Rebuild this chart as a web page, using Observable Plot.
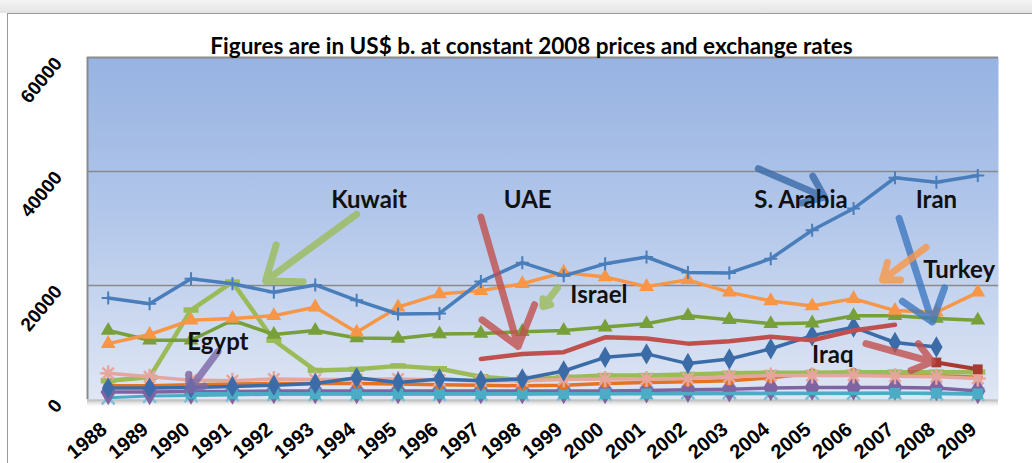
<!DOCTYPE html>
<html>
<head>
<meta charset="utf-8">
<script src="https://cdn.jsdelivr.net/npm/d3@7"></script>
<script src="https://cdn.jsdelivr.net/npm/@observablehq/plot@0.6"></script>
<style>
  html, body { margin: 0; padding: 0; background: #fff; }
  #page { position: relative; width: 1032px; height: 463px; overflow: hidden; background: #fff; }
  #topshade { position: absolute; left: 0; top: 0; width: 1032px; height: 13px;
    background: linear-gradient(#f4f4f4, #e4e4e4); }
  #frame { position: absolute; left: 7px; top: 13px; width: 1025px; height: 450px;
    border-left: 1px solid #9a9a9a; border-top: 1px solid #9a9a9a; }
  #title { position: relative; height: 30px; z-index: 2; }
  #title div { position: absolute; top: 22px; left: 0; width: 1024px; padding-left: 23px; box-sizing: border-box;
    text-align: center; font: bold 22.5px Lato, "Open Sans", sans-serif; line-height: 20px; color: #000; white-space: nowrap; }
  #chart { position: relative; z-index: 1; }
</style>
</head>
<body>
<div id="page">
  <div id="topshade"></div>
  <div id="frame">
    <div id="title"><div>Figures are in US$ b. at constant 2008 prices and exchange rates</div></div>
    <div id="chart"></div>
  </div>
</div>
<script>
// ---------------- data ----------------
const years = [1988,1989,1990,1991,1992,1993,1994,1995,1996,1997,1998,1999,2000,2001,2002,2003,2004,2005,2006,2007,2008,2009];
const yTicks = [0, 20000, 40000, 60000];

const saudi  = [17800,16800,21200,20300,18800,20100,17400,15000,15100,20700,24000,21700,23800,25000,22300,22200,24700,29700,33500,38900,38100,39300];
const turkey = [9800,11400,13900,14200,14700,16200,11800,16200,18500,19100,20300,22300,21500,19800,21000,18800,17300,16400,17700,15600,15300,18800];
const israel = [12100,10400,10400,13900,11400,12100,10800,10700,11500,11600,11900,12100,12700,13300,14700,14000,13300,13400,14700,14700,14200,13900];
const kuwait = [3300,3900,15700,20600,10400,5100,5300,5900,5400,4000,3400,3900,4200,4200,4400,4600,4700,4700,4800,4800,4800,4800];
const uae    = [null,null,null,null,null,null,null,null,null,7100,8000,8300,10900,10700,9800,10200,11000,10400,12100,13100,null,null];
const iran   = [2000,2000,2100,2300,2500,2800,3800,3000,3600,3300,3600,5000,7400,8000,6300,7100,8900,11200,12700,10000,9200,null];
const iraq   = [null,null,null,null,null,null,null,null,null,null,null,null,null,null,null,null,null,null,null,null,6500,5300];
const orange2= [2400,2400,2600,2700,2800,2800,2800,2700,2600,2500,2400,2500,2800,3000,3100,3300,3800,4600,4700,4400,4200,3900];
const egypt  = [4600,4000,3400,3300,3600,3500,3500,3600,3400,3300,3300,3500,3600,3600,3700,4000,4200,4200,4200,4100,4000,3700];
const purple = [1300,1300,1400,1400,1500,1500,1500,1500,1500,1500,1500,1500,1500,1600,1700,1800,2000,2100,2100,2100,2000,1500];
const cyanX  = [300,600,700,800,900,900,900,900,900,900,900,1000,1000,1100,1200,1200,1100,1100,1100,1100,1000,900];
const cyanSq = [null,null,1000,1000,1000,1000,1000,1000,1000,1000,1000,1000,1000,1000,null,null,null,null,null,1100,1100,1000];

// label annotations
const labelText  = ["Kuwait","UAE","S. Arabia","Iran","Turkey","Israel","Egypt","Iraq"];
const labelYear  = [1994.3, 1998.13, 2004.73, 2008.0, 2008.55, 1999.85, 1990.65, 2005.5];
const labelValue = [35000, 35000, 35000, 35000, 22700, 18300, 10000, 7700];
// arrows: from (year, value) to (year, value)
const arrowColor = ["#9bbb59","#c0504d","#3a6aa8","#3f78c0","#f79646","#9bbb59","#7b68a6","#c0504d"];
const arrowX1 = [1994.0, 1997.0, 2003.7, 2007.1, 2007.75, 1998.85, 1990.65, 2006.3];
const arrowY1 = [32500, 32000, 40500, 31800, 26700, 19600, 8400, 9800];
const arrowX2 = [1991.8, 1997.9, 2005.3, 2007.9, 2006.7, 1998.5, 1989.95, 2007.9];
const arrowY2 = [20800, 9300, 35500, 13600, 21000, 16300, 1600, 6600];

// ---------------- build ----------------
function rows(vals) { return years.map((y, i) => ({year: y, v: vals[i]})).filter(d => d.v != null); }

const dashSym = { draw(ctx, size) { const w = 15, h = 5.5; ctx.rect(-w/2, -h/2, w, h); } };
const plusSym = { draw(ctx, size) { const r = 6.5; ctx.moveTo(-r, 0); ctx.lineTo(r, 0); ctx.moveTo(0, -r); ctx.lineTo(0, r); } };
const xSym    = { draw(ctx, size) { const r = 6.5; ctx.moveTo(-r, -r); ctx.lineTo(r, r); ctx.moveTo(-r, r); ctx.lineTo(r, -r); } };
const astSym  = { draw(ctx, size) { const r = 8; for (let k = 0; k < 4; k++) { const a = k * Math.PI / 4; ctx.moveTo(-r*Math.cos(a), -r*Math.sin(a)); ctx.lineTo(r*Math.cos(a), r*Math.sin(a)); } } };

const series = [
  {vals: cyanX,  color: "#4bacc6", sym: xSym, stroke: true, w: 3, sw: 2.5, mcolor: "#7fbfdc"},
  {vals: purple, color: "#8064a2", sym: "diamond", r: 8, w: 3.5},
  {vals: cyanSq, color: "#4bacc6", sym: "square", r: 6, w: 3.5},
  {vals: orange2,color: "#e37222", sym: "circle", r: 5, w: 3.5},
  {vals: kuwait, color: "#9bbb59", sym: dashSym, r: 5, w: 4.5},
  {vals: egypt,  color: "#e6a59d", sym: astSym, stroke: true, w: 3.5, sw: 2.5},
  {vals: iran,   color: "#3c6ca8", sym: "diamond", r: 6.5, w: 3.5},
  {vals: uae,    color: "#c0504d", sym: null, w: 4.5},
  {vals: iraq,   color: "#a83a30", sym: "square", r: 5.5, w: 4},
  {vals: israel, color: "#77a03a", sym: "triangle", r: 5.5, w: 3.5},
  {vals: turkey, color: "#f79646", sym: "triangle", r: 5.5, w: 3.5},
  {vals: saudi,  color: "#4a7ebb", sym: plusSym, stroke: true, w: 3.5, sw: 2},
];

const marks = [];
marks.push(Plot.frame({fill: "url(#bgGrad)"}));
marks.push(Plot.ruleY([20000, 40000], {stroke: "#8a8a8a", strokeWidth: 1.5}));
marks.push(Plot.ruleX([1987.5], {stroke: "#8c8c8c", strokeWidth: 2}));
marks.push(Plot.ruleY([60000], {stroke: "#8c8c8c", strokeWidth: 2}));

for (const s of series) {
  const data = rows(s.vals);
  marks.push(Plot.line(data, {x: "year", y: "v", stroke: s.color, strokeWidth: s.w, curve: "linear"}));
  if (s.sym) {
    if (s.stroke) marks.push(Plot.dot(data, {x: "year", y: "v", symbol: s.sym, r: 6, stroke: s.mcolor || s.color, strokeWidth: s.sw, fill: "none"}));
    else marks.push(Plot.dot(data, {x: "year", y: "v", symbol: s.sym, r: s.r, fill: s.color, stroke: "none"}));
  }
}

// arrows
const arrows = arrowX1.map((x, i) => ({x1: x, y1: arrowY1[i], x2: arrowX2[i], y2: arrowY2[i], c: arrowColor[i]}));
marks.push(Plot.arrow(arrows, {x1: "x1", y1: "y1", x2: "x2", y2: "y2", stroke: "c", strokeWidth: 7, headLength: 17, headAngle: 75, strokeOpacity: 0.8}));

// labels
const labels = labelText.map((t, i) => ({t, x: labelYear[i], y: labelValue[i]}));
marks.push(Plot.text(labels, {x: "x", y: "y", text: "t", fontSize: 24, fontWeight: "bold", fontFamily: "Lato, 'Open Sans', sans-serif", fill: "#111", textAnchor: "middle"}));

// axes as text
marks.push(Plot.text(years, {x: d => d, frameAnchor: "bottom", text: d => String(d), rotate: -40, textAnchor: "end",
  dx: 0, dy: 32, fontSize: 20, fontWeight: "bold", fontFamily: "'Liberation Sans', Arial, sans-serif", fill: "#000"}));
marks.push(Plot.text(yTicks, {y: d => d, frameAnchor: "left", text: d => String(d), rotate: -50, textAnchor: "end",
  dx: -29, dy: 2.5, fontSize: 19, fontWeight: "bold", fontFamily: "'Liberation Sans', Arial, sans-serif", fill: "#000"}));

const chart = Plot.plot({
  width: 1024,
  height: 419,
  marginLeft: 79,
  marginRight: 34,
  marginTop: 13,
  marginBottom: 64,
  style: {background: "transparent", overflow: "visible"},
  x: {domain: [1987.5, 2009.5], axis: null},
  y: {domain: [0, 60000], axis: null},
  marks
});

// gradient definitions + floor shadow
const svg = d3.select(chart);
const defs = svg.insert("defs", ":first-child");
const g = defs.append("linearGradient").attr("id", "bgGrad").attr("x1", 0).attr("y1", 0).attr("x2", 0).attr("y2", 1);
g.append("stop").attr("offset", "0%").attr("stop-color", "#97b3e2");
g.append("stop").attr("offset", "45%").attr("stop-color", "#b1c6ea");
g.append("stop").attr("offset", "100%").attr("stop-color", "#dfe6f4");
const sh = defs.append("linearGradient").attr("id", "shGrad").attr("x1", 0).attr("y1", 0).attr("x2", 0).attr("y2", 1);
sh.append("stop").attr("offset", "0%").attr("stop-color", "#a9a9a9");
sh.append("stop").attr("offset", "100%").attr("stop-color", "#ffffff").attr("stop-opacity", 0);
svg.insert("rect", "defs + *").attr("x", 79).attr("y", 355).attr("width", 911).attr("height", 9).attr("fill", "url(#shGrad)");

document.getElementById("chart").appendChild(chart);
</script>
</body>
</html>
